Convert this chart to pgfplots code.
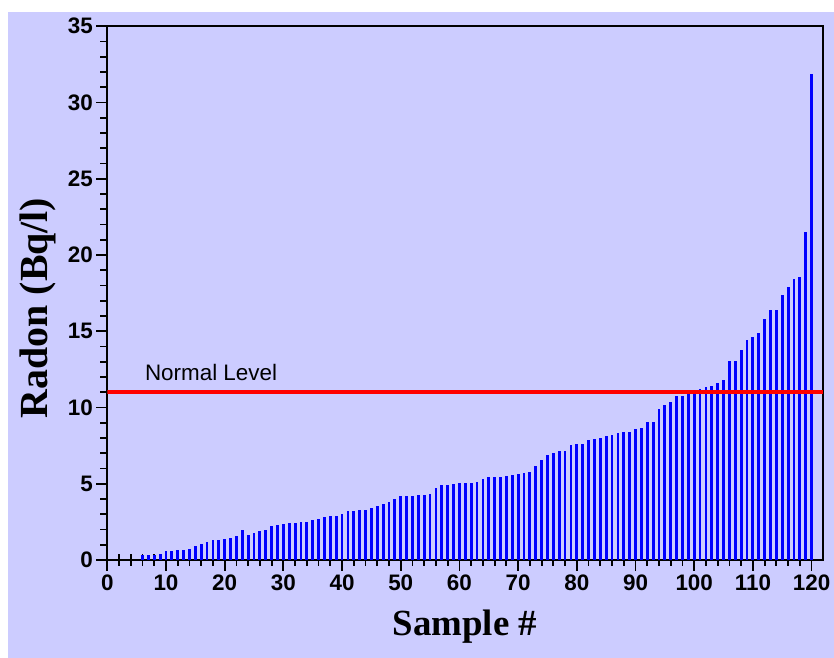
\documentclass[border=0pt]{standalone}
\usepackage{fontspec}
\setmainfont{Liberation Sans}
\newfontfamily\timesfont{Liberation Serif}
\usepackage{pgfplots}
\pgfplotsset{compat=1.18}
\definecolor{bgpurple}{HTML}{CCCCFF}

\begin{document}
\begin{tikzpicture}[x=1bp,y=1bp]
% lavender page background
\fill[bgpurple] (8,0) rectangle (834,646);
\begin{axis}[
  at={(107.3bp,98bp)}, anchor=south west,
  scale only axis, width=716bp, height=533.75bp,
  xmin=0, xmax=122, ymin=0, ymax=35,
  axis line style={line width=2bp},
  tick pos=left,
  xtick={0,10,...,120}, ytick={0,5,...,35},
  minor y tick num=4,
  tick align=outside,
  major tick length=11bp, minor tick length=7bp,
  every tick/.style={black, line width=1.8bp},
  extra x ticks={2,4,6,8,12,14,16,18,22,24,26,28,32,34,36,38,42,44,46,48,
    52,54,56,58,62,64,66,68,72,74,76,78,82,84,86,88,92,94,96,98,
    102,104,106,108,112,114,116,118},
  extra x tick labels={},
  extra x tick style={tick align=center, major tick length=12bp},
  tick label style={font=\fontsize{22.5}{24}\selectfont\bfseries},
  /pgf/number format/assume math mode=true,
]
\addplot[ycomb, draw=blue, line width=2.8bp] table {
x y
6 0.30
7 0.30
8 0.35
9 0.40
10 0.59
11 0.59
12 0.63
13 0.68
14 0.72
15 0.92
16 1.05
17 1.20
18 1.29
19 1.29
20 1.36
21 1.42
22 1.55
23 1.99
24 1.66
25 1.75
26 1.88
27 1.97
28 2.25
29 2.30
30 2.39
31 2.43
32 2.43
33 2.47
34 2.47
35 2.64
36 2.71
37 2.82
38 2.86
39 2.86
40 3.04
41 3.19
42 3.23
43 3.25
44 3.27
45 3.43
46 3.54
47 3.65
48 3.80
49 4.02
50 4.17
51 4.21
52 4.21
53 4.26
54 4.26
55 4.35
56 4.72
57 4.90
58 4.90
59 4.96
60 5.07
61 5.07
62 5.07
63 5.09
64 5.28
65 5.43
66 5.44
67 5.44
68 5.48
69 5.57
70 5.66
71 5.70
72 5.75
73 6.14
74 6.58
75 6.91
76 7.04
77 7.13
78 7.17
79 7.52
80 7.58
81 7.63
82 7.87
83 7.91
84 7.97
85 8.14
86 8.20
87 8.33
88 8.37
89 8.37
90 8.59
91 8.63
92 9.05
93 9.05
94 9.92
95 10.14
96 10.38
97 10.75
98 10.75
99 10.93
100 11.04
101 11.21
102 11.37
103 11.44
104 11.63
105 11.79
106 13.04
107 13.04
108 13.76
109 14.43
110 14.61
111 14.90
112 15.79
113 16.37
114 16.37
115 17.37
116 17.91
117 18.45
118 18.58
119 21.52
120 31.88
};
\addplot[red, line width=4bp] coordinates {(0,11) (122,11)};
\node[anchor=base west, font=\fontsize{22.5}{24}\selectfont, inner sep=0pt]
  at (axis cs:6.4,11.8) {Normal Level};
\end{axis}
\node[rotate=90, anchor=base, inner sep=0pt,
  font=\timesfont\bfseries\fontsize{40}{42}\selectfont] at (47,350) {Radon (Bq/l)};
\node[anchor=base, inner sep=0pt,
  font=\timesfont\bfseries\fontsize{37}{39}\selectfont] at (465,22) {Sample \#};
\pgfresetboundingbox
\path (0,0) rectangle (834,658);
\end{tikzpicture}
\end{document}
